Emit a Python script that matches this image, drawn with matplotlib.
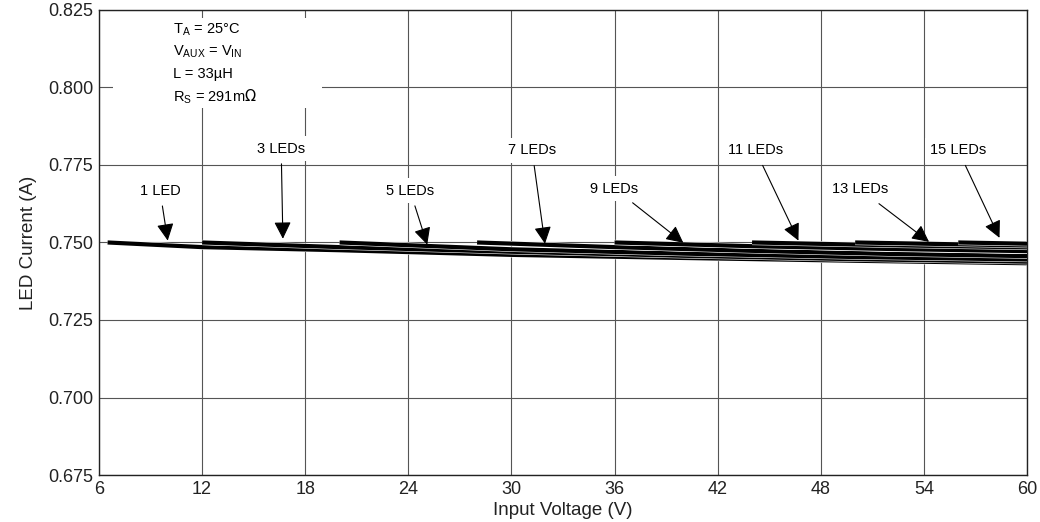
import matplotlib
matplotlib.use("Agg")
import matplotlib.pyplot as plt
import matplotlib.patheffects as pe
from matplotlib.patches import Rectangle

plt.rcParams['font.family'] = ['Liberation Sans', 'DejaVu Sans']

# LED current vs input voltage, one curve per LED string length
v_1 = [6.5, 12, 20, 30, 40, 50, 60]
i_1 = [0.7500, 0.7485, 0.7475, 0.7460, 0.7450, 0.7441, 0.7433]
v_3 = [12, 20, 30, 40, 50, 60]
i_3 = [0.7500, 0.7485, 0.7470, 0.7457, 0.7446, 0.7438]
v_5 = [20, 30, 40, 50, 60]
i_5 = [0.7500, 0.7478, 0.7464, 0.7453, 0.7445]
v_7 = [28, 36, 44, 52, 60]
i_7 = [0.7500, 0.7485, 0.7473, 0.7463, 0.7456]
v_9 = [36, 44, 52, 60]
i_9 = [0.7500, 0.7488, 0.7479, 0.7472]
v_11 = [44, 52, 60]
i_11 = [0.7500, 0.7491, 0.7484]
v_13 = [50, 55, 60]
i_13 = [0.7500, 0.7495, 0.7490]
v_15 = [56, 58, 60]
i_15 = [0.7500, 0.7498, 0.7496]

series = [(v_1, i_1), (v_3, i_3), (v_5, i_5), (v_7, i_7),
          (v_9, i_9), (v_11, i_11), (v_13, i_13), (v_15, i_15)]

# callouts: label, text position, arrow tip
labels = ['1 LED', '3 LEDs', '5 LEDs', '7 LEDs', '9 LEDs', '11 LEDs', '13 LEDs', '15 LEDs']
label_pos = [(9.55, 0.7667), (16.6, 0.7803), (24.1, 0.7667), (31.2, 0.7797),
             (36.0, 0.7674), (44.2, 0.7797), (50.3, 0.7671), (56.0, 0.7797)]
tip_pos = [(10.0, 0.7506), (16.7, 0.7512), (25.1, 0.7493), (31.95, 0.7496),
           (40.0, 0.7499), (46.7, 0.7506), (54.3, 0.7502), (58.4, 0.7515)]

conditions = [r'T$_\mathregular{A}$ = 25°C',
              r'V$_\mathregular{AUX}$ = V$_\mathregular{IN}$',
              r'L = 33µH',
              r'R$_\mathregular{S}$ = 291m$\Omega$']

xticks = [6, 12, 18, 24, 30, 36, 42, 48, 54, 60]
yticks = [0.675, 0.700, 0.725, 0.750, 0.775, 0.800, 0.825]

fig = plt.figure(figsize=(10.4, 5.22), dpi=100)
ax = fig.add_axes([0.0952, 0.090, 0.8923, 0.891])

for v, i in series:
    ax.plot(v, i, color='black', lw=3.0, solid_capstyle='butt', zorder=3,
            path_effects=[pe.Stroke(linewidth=3.8, foreground='white'), pe.Normal()])

for lab, (tx, ty), (px, py) in zip(labels, label_pos, tip_pos):
    ax.annotate(lab, xy=(px, py), xytext=(tx, ty), ha='center', va='center',
                fontsize=10.5, zorder=5,
                bbox=dict(fc='white', ec='none', pad=4),
                arrowprops=dict(arrowstyle='-|>', color='black', lw=0.8,
                                mutation_scale=26, shrinkA=2, shrinkB=0))

ax.add_patch(Rectangle((0.015, 0.789), 0.225, 0.194, transform=ax.transAxes,
                       fc='white', ec='none', zorder=2))
for k, line in enumerate(conditions):
    ax.text(0.080, 0.957 - k * 0.0475, line, transform=ax.transAxes,
            ha='left', va='center', fontsize=10.5, zorder=4)

ax.set_xlim(6, 60)
ax.set_ylim(0.675, 0.825)
ax.set_xticks(xticks)
ax.set_yticks(yticks)
ax.set_yticklabels(['%.3f' % y for y in yticks])
ax.grid(True, color='#555555', lw=0.8)
ax.set_axisbelow(True)
ax.tick_params(length=0, labelsize=13, colors='#222222', pad=4)
for s in ax.spines.values():
    s.set_color('#222222')
    s.set_linewidth(1.0)

ax.set_xlabel('Input Voltage (V)', fontsize=13.5, labelpad=3, color='#222222')
ax.set_ylabel('LED Current (A)', fontsize=13.5, labelpad=8, color='#222222')

fig.savefig('out.png', dpi=100)
